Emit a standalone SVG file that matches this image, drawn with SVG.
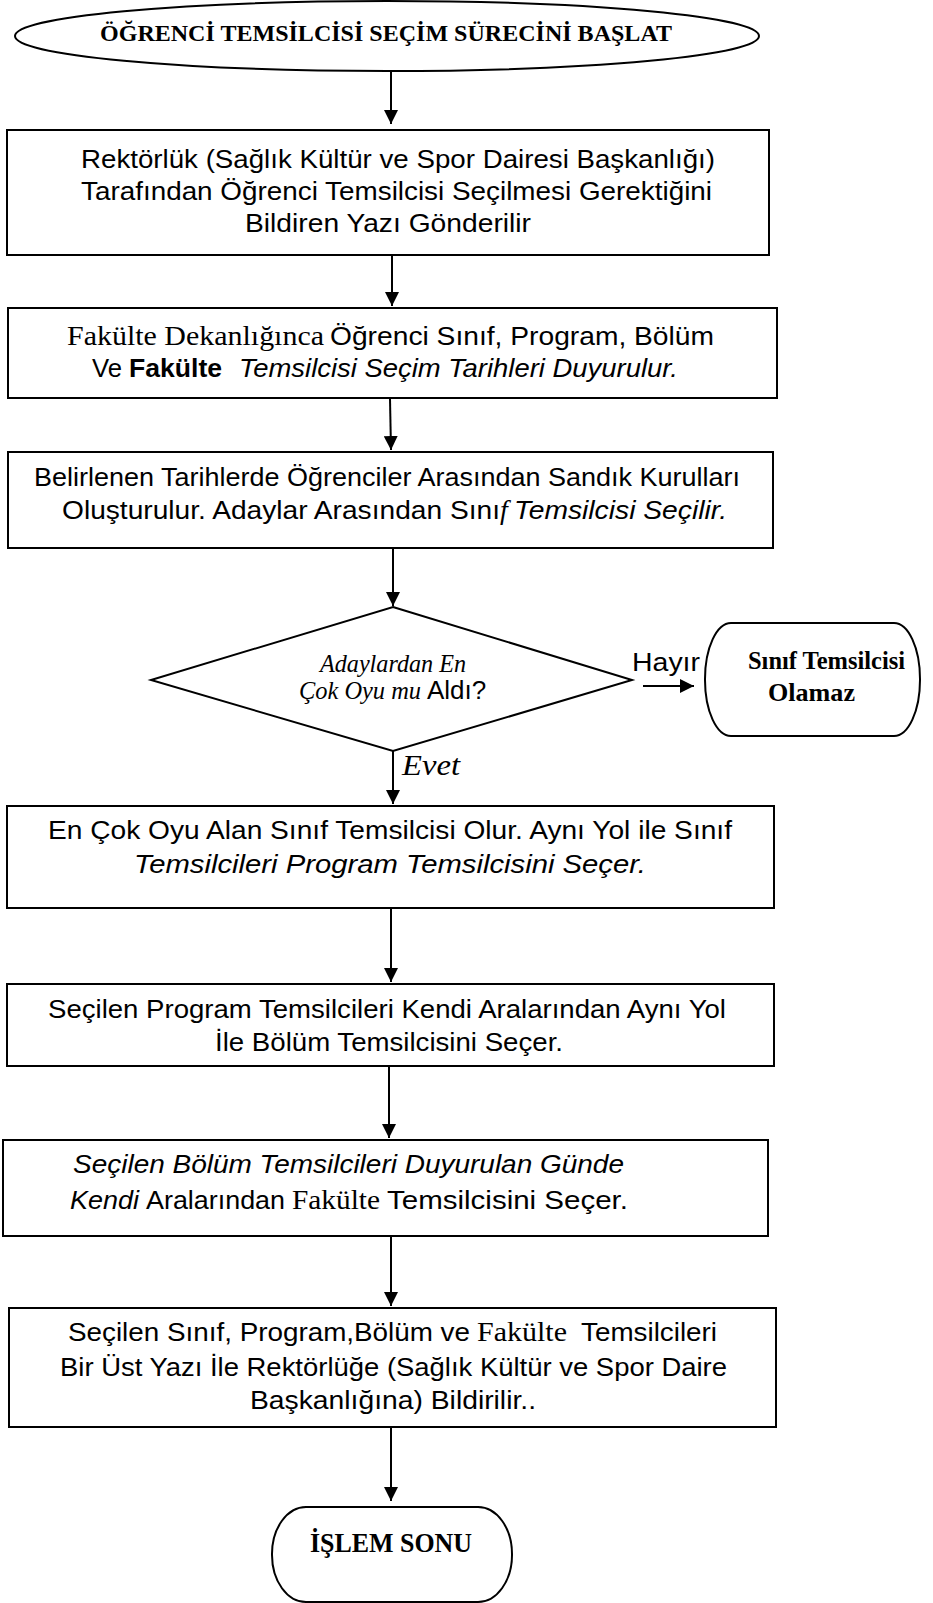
<svg xmlns="http://www.w3.org/2000/svg" width="933" height="1603" viewBox="0 0 933 1603">
  <style>
    .shape { fill: #ffffff; stroke: #000000; stroke-width: 2; }
    .link { fill: none; stroke: #000000; stroke-width: 2; }
    .sans { font-family: "Liberation Sans", Arial, sans-serif; font-size: 26px; fill: #000000; }
    .serif { font-family: "Liberation Serif", "Times New Roman", serif; }
    .it { font-style: italic; }
    .b { font-weight: bold; }
    .title { font-family: "Liberation Serif", "Times New Roman", serif; font-weight: bold; fill: #000000; }
  </style>
  <defs>
    <marker id="arrow" viewBox="0 0 14 14" refX="14" refY="7" markerWidth="14" markerHeight="14" markerUnits="userSpaceOnUse" orient="auto">
      <path d="M0,0 L14,7 L0,14 Z" fill="#000000"/>
    </marker>
  </defs>
  <rect width="933" height="1603" fill="#ffffff"/>

  <!-- connectors -->
  <g id="connectors">
    <path class="link" d="M391,72 V124" marker-end="url(#arrow)"/>
    <path class="link" d="M392,256 V306" marker-end="url(#arrow)"/>
    <path class="link" d="M390,399 L391,450" marker-end="url(#arrow)"/>
    <path class="link" d="M393,549 V606" marker-end="url(#arrow)"/>
    <path class="link" d="M393,751 V804" marker-end="url(#arrow)"/>
    <path class="link" d="M391,909 V982" marker-end="url(#arrow)"/>
    <path class="link" d="M389,1067 V1138" marker-end="url(#arrow)"/>
    <path class="link" d="M391,1237 V1306" marker-end="url(#arrow)"/>
    <path class="link" d="M391,1428 V1501" marker-end="url(#arrow)"/>
    <path class="link" d="M643,686 H694" marker-end="url(#arrow)"/>
    <text class="sans" x="632" y="671" textLength="68" lengthAdjust="spacingAndGlyphs">Hayır</text>
    <text class="serif it" x="402" y="775" font-size="30" textLength="58" lengthAdjust="spacingAndGlyphs" fill="#000000">Evet</text>
  </g>

  <!-- start terminator -->
  <g id="start">
    <ellipse class="shape" cx="387" cy="36" rx="372" ry="35"/>
    <text class="title" x="100" y="41" font-size="24" textLength="572" lengthAdjust="spacingAndGlyphs">ÖĞRENCİ TEMSİLCİSİ SEÇİM SÜRECİNİ BAŞLAT</text>
  </g>

  <!-- step 1 -->
  <g id="step1">
    <rect class="shape" x="7" y="130" width="762" height="125"/>
    <text class="sans" x="81" y="168" textLength="634" lengthAdjust="spacingAndGlyphs">Rektörlük (Sağlık Kültür ve Spor Dairesi Başkanlığı)</text>
    <text class="sans" x="81" y="200" textLength="631" lengthAdjust="spacingAndGlyphs">Tarafından Öğrenci Temsilcisi Seçilmesi Gerektiğini</text>
    <text class="sans" x="245" y="232" textLength="286" lengthAdjust="spacingAndGlyphs">Bildiren Yazı Gönderilir</text>
  </g>

  <!-- step 2 -->
  <g id="step2">
    <rect class="shape" x="8" y="308" width="769" height="90"/>
    <text class="sans" y="345"><tspan class="serif" x="67" font-size="28" textLength="257" lengthAdjust="spacingAndGlyphs">Fakülte Dekanlığınca</tspan><tspan x="330" textLength="384" lengthAdjust="spacingAndGlyphs">Öğrenci Sınıf, Program, Bölüm</tspan></text>
    <text class="sans" y="377"><tspan x="92" textLength="30" lengthAdjust="spacingAndGlyphs">Ve</tspan><tspan class="b" x="129" textLength="93" lengthAdjust="spacingAndGlyphs">Fakülte</tspan><tspan class="it" x="239" textLength="439" lengthAdjust="spacingAndGlyphs">Temsilcisi Seçim  Tarihleri Duyurulur.</tspan></text>
  </g>

  <!-- step 3 -->
  <g id="step3">
    <rect class="shape" x="8" y="452" width="765" height="96"/>
    <text class="sans" x="34" y="486" textLength="706" lengthAdjust="spacingAndGlyphs">Belirlenen Tarihlerde Öğrenciler Arasından Sandık Kurulları</text>
    <text class="sans" y="519"><tspan x="62" textLength="438" lengthAdjust="spacingAndGlyphs">Oluşturulur. Adaylar Arasından Sını</tspan><tspan class="serif it" x="500" font-size="28">f</tspan><tspan class="it" x="514" textLength="213" lengthAdjust="spacingAndGlyphs">Temsilcisi Seçilir.</tspan></text>
  </g>

  <!-- decision -->
  <g id="decision">
    <polygon class="shape" points="393,607 632,680 393,751 151,680"/>
    <text class="serif it" x="320" y="672" font-size="25" textLength="146" lengthAdjust="spacingAndGlyphs" fill="#000000">Adaylardan En</text>
    <text class="sans" y="699"><tspan class="serif it" x="299" font-size="25" textLength="122" lengthAdjust="spacingAndGlyphs">Çok Oyu mu</tspan><tspan x="427">Aldı?</tspan></text>
  </g>

  <!-- rejection terminator -->
  <g id="not-elected">
    <rect class="shape" x="705" y="623" width="215" height="113" rx="26" ry="56"/>
    <text class="title" x="748" y="669" font-size="26" textLength="157" lengthAdjust="spacingAndGlyphs">Sınıf Temsilcisi</text>
    <text class="title" x="768" y="701" font-size="26" textLength="87" lengthAdjust="spacingAndGlyphs">Olamaz</text>
  </g>

  <!-- step 4 -->
  <g id="step4">
    <rect class="shape" x="7" y="806" width="767" height="102"/>
    <text class="sans" x="48" y="839" textLength="684" lengthAdjust="spacingAndGlyphs">En Çok Oyu Alan Sınıf Temsilcisi Olur. Aynı Yol ile Sınıf</text>
    <text class="sans it" x="134" y="873" textLength="512" lengthAdjust="spacingAndGlyphs">Temsilcileri Program Temsilcisini Seçer.</text>
  </g>

  <!-- step 5 -->
  <g id="step5">
    <rect class="shape" x="7" y="984" width="767" height="82"/>
    <text class="sans" x="48" y="1018" textLength="678" lengthAdjust="spacingAndGlyphs">Seçilen Program Temsilcileri Kendi Aralarından Aynı Yol</text>
    <text class="sans" x="215" y="1051" textLength="348" lengthAdjust="spacingAndGlyphs">İle Bölüm Temsilcisini Seçer.</text>
  </g>

  <!-- step 6 -->
  <g id="step6">
    <rect class="shape" x="3" y="1140" width="765" height="96"/>
    <text class="sans it" x="73" y="1173" textLength="551" lengthAdjust="spacingAndGlyphs">Seçilen Bölüm Temsilcileri Duyurulan Günde</text>
    <text class="sans" y="1209"><tspan class="it" x="70" textLength="69" lengthAdjust="spacingAndGlyphs">Kendi</tspan><tspan x="146" textLength="139" lengthAdjust="spacingAndGlyphs">Aralarından</tspan><tspan class="serif" x="292" font-size="28" textLength="88" lengthAdjust="spacingAndGlyphs">Fakülte</tspan><tspan x="387" textLength="241" lengthAdjust="spacingAndGlyphs">Temsilcisini Seçer.</tspan></text>
  </g>

  <!-- step 7 -->
  <g id="step7">
    <rect class="shape" x="9" y="1308" width="767" height="119"/>
    <text class="sans" y="1341"><tspan x="68" textLength="402" lengthAdjust="spacingAndGlyphs">Seçilen Sınıf, Program,Bölüm ve</tspan><tspan class="serif" x="477" font-size="28" textLength="90" lengthAdjust="spacingAndGlyphs">Fakülte</tspan><tspan x="581" textLength="136" lengthAdjust="spacingAndGlyphs">Temsilcileri</tspan></text>
    <text class="sans" x="60" y="1376" textLength="667" lengthAdjust="spacingAndGlyphs">Bir Üst Yazı İle Rektörlüğe (Sağlık Kültür ve Spor Daire</text>
    <text class="sans" x="250" y="1409" textLength="286" lengthAdjust="spacingAndGlyphs">Başkanlığına)  Bildirilir..</text>
  </g>

  <!-- end terminator -->
  <g id="end">
    <rect class="shape" x="272" y="1507" width="240" height="95" rx="34" ry="47"/>
    <text class="title" x="310" y="1552" font-size="27" textLength="162" lengthAdjust="spacingAndGlyphs">İŞLEM SONU</text>
  </g>
</svg>
